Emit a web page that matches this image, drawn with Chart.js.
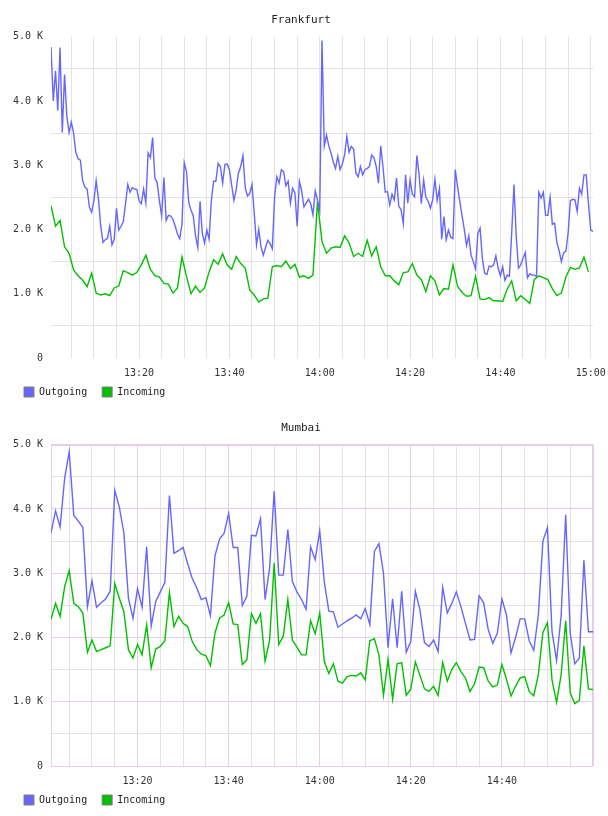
<!DOCTYPE html>
<html>
<head>
<meta charset="utf-8">
<script src="https://cdn.jsdelivr.net/npm/chart.js@4.4.1/dist/chart.umd.min.js"></script>
<style>
  html, body { margin: 0; padding: 0; background: #fff; }
  #wrap { position: relative; width: 608px; height: 816px; overflow: hidden; }
  .box { position: absolute; left: 0; width: 608px; height: 416px; }
  #box-fra { top: 0; }
  #box-bom { top: 408px; }
</style>
</head>
<body>
<div id="wrap">
  <div class="box" id="box-fra"><canvas id="chart-fra"></canvas></div>
  <div class="box" id="box-bom"><canvas id="chart-bom"></canvas></div>
</div>
<script>
// values are in K; times are minutes since midnight
// Frankfurt: outgoing every 30 s, incoming every minute, from 13:00:30
const fraStart = 780.5;
const fraOutgoing = [
  4.84, 4.00, 4.47, 3.85, 4.83, 3.51, 4.41, 3.77, 3.51, 3.67,
  3.50, 3.20, 3.10, 3.08, 2.76, 2.66, 2.63, 2.35, 2.27, 2.45,
  2.76, 2.48, 2.06, 1.80, 1.84, 1.86, 2.05, 1.76, 1.85, 2.33,
  1.99, 2.05, 2.12, 2.40, 2.70, 2.58, 2.65, 2.63, 2.62, 2.45,
  2.40, 2.63, 2.41, 3.19, 3.12, 3.43, 2.80, 2.73, 2.45, 2.21,
  2.81, 2.14, 2.22, 2.21, 2.16, 2.05, 1.93, 1.86, 2.08, 3.04,
  2.90, 2.42, 2.30, 2.21, 1.90, 1.72, 2.44, 1.94, 1.79, 1.99,
  1.85, 2.45, 2.75, 2.75, 3.03, 2.98, 2.72, 3.01, 3.02, 2.93,
  2.69, 2.45, 2.62, 2.88, 2.98, 3.15, 2.65, 2.52, 2.56, 2.70,
  2.25, 1.76, 2.00, 1.73, 1.60, 1.72, 1.83, 1.78, 1.70, 2.50,
  2.82, 2.72, 2.93, 2.90, 2.68, 2.75, 2.41, 2.64, 2.57, 2.05,
  2.75, 2.60, 2.35, 2.41, 2.47, 2.40, 2.23, 2.60, 2.46, 2.30,
  4.94, 3.30, 3.47, 3.30, 3.19, 3.05, 2.95, 3.14, 2.93, 3.02,
  3.16, 3.45, 3.20, 3.29, 3.25, 2.88, 2.82, 2.98, 2.85, 2.93,
  2.95, 2.98, 3.16, 3.12, 2.98, 2.72, 3.30, 2.98, 2.58, 2.59,
  2.38, 2.55, 2.46, 2.80, 2.36, 2.31, 2.09, 2.85, 2.41, 2.77,
  2.55, 2.51, 3.15, 2.85, 2.40, 2.77, 2.50, 2.44, 2.33, 2.46,
  2.78, 2.45, 2.64, 1.85, 2.20, 1.84, 1.99, 1.88, 1.86, 2.93,
  2.67, 2.44, 2.22, 2.00, 1.75, 1.90, 1.60, 1.50, 1.38, 1.94,
  2.02, 1.55, 1.32, 1.30, 1.43, 1.42, 1.45, 1.59, 1.40, 1.28,
  1.42, 1.21, 1.29, 1.27, 1.95, 2.70, 1.90, 1.40, 1.45, 1.55,
  1.64, 1.25, 1.31, 1.29, 1.29, 1.27, 2.58, 2.49, 2.58, 2.22,
  2.22, 2.50, 2.08, 2.10, 1.80, 1.67, 1.50, 1.64, 1.66, 1.95,
  2.45, 2.47, 2.46, 2.28, 2.64, 2.55, 2.85, 2.85, 2.40, 1.99,
  1.97
];
const fraIncoming = [
  2.37, 2.05, 2.14, 1.73, 1.63, 1.37, 1.28, 1.21, 1.11, 1.32,
  1.01, 0.98, 1.00, 0.97, 1.09, 1.12, 1.36, 1.33, 1.29, 1.33,
  1.45, 1.60, 1.38, 1.28, 1.26, 1.16, 1.15, 1.01, 1.09, 1.57,
  1.27, 1.00, 1.12, 1.02, 1.09, 1.34, 1.53, 1.46, 1.62, 1.45,
  1.38, 1.58, 1.47, 1.40, 1.06, 0.98, 0.87, 0.92, 0.93, 1.42,
  1.44, 1.42, 1.51, 1.39, 1.46, 1.26, 1.28, 1.24, 1.29, 2.43,
  1.81, 1.63, 1.71, 1.73, 1.72, 1.90, 1.79, 1.58, 1.63, 1.58,
  1.83, 1.59, 1.73, 1.42, 1.28, 1.28, 1.20, 1.14, 1.33, 1.34,
  1.47, 1.29, 1.22, 1.03, 1.28, 1.20, 0.98, 1.08, 1.07, 1.45,
  1.12, 1.02, 0.96, 0.97, 1.27, 0.92, 0.91, 0.94, 0.89, 0.89,
  0.88, 1.07, 1.20, 0.89, 0.97, 0.91, 0.85, 1.22, 1.28, 1.25,
  1.22, 1.08, 0.97, 1.01, 1.26, 1.41, 1.38, 1.40, 1.57, 1.34
];

// Mumbai: both series every minute, from 13:01
const bomStart = 781;
const bomOutgoing = [
  3.63, 3.97, 3.72, 4.48, 4.89, 3.90, 3.81, 3.71, 2.48, 2.88,
  2.47, 2.54, 2.60, 2.72, 4.29, 4.03, 3.63, 2.61, 2.30, 2.76,
  2.47, 3.41, 2.18, 2.56, 2.71, 2.86, 4.21, 3.31, 3.35, 3.40,
  3.15, 2.92, 2.77, 2.59, 2.62, 2.34, 3.27, 3.53, 3.62, 3.93,
  3.40, 3.40, 2.50, 2.64, 3.59, 3.58, 3.85, 2.59, 3.08, 4.28,
  2.97, 2.97, 3.68, 2.87, 2.71, 2.59, 2.44, 3.41, 3.21, 3.66,
  2.87, 2.41, 2.40, 2.16, 2.21, 2.26, 2.30, 2.35, 2.29, 2.45,
  2.20, 3.34, 3.46, 3.00, 1.84, 2.60, 1.84, 2.72, 1.77, 1.94,
  2.72, 2.43, 1.92, 1.86, 1.96, 1.78, 2.78, 2.38, 2.53, 2.71,
  2.48, 2.22, 1.96, 1.97, 2.65, 2.54, 2.12, 1.91, 2.07, 2.60,
  2.35, 1.76, 2.00, 2.29, 2.29, 1.95, 1.80, 2.35, 3.50, 3.71,
  2.09, 1.64, 2.33, 3.91, 2.07, 1.59, 1.68, 3.20, 2.09, 2.09
];
const bomIncoming = [
  2.28, 2.53, 2.33, 2.79, 3.04, 2.53, 2.48, 2.38, 1.77, 1.96,
  1.78, 1.81, 1.84, 1.87, 2.84, 2.61, 2.40, 1.81, 1.68, 1.89,
  1.73, 2.20, 1.53, 1.82, 1.86, 1.95, 2.70, 2.17, 2.33, 2.22,
  2.17, 1.94, 1.81, 1.74, 1.72, 1.56, 2.07, 2.30, 2.35, 2.54,
  2.21, 2.20, 1.58, 1.65, 2.37, 2.22, 2.37, 1.63, 1.96, 3.16,
  1.89, 2.02, 2.59, 1.96, 1.85, 1.73, 1.73, 2.26, 2.06, 2.38,
  1.63, 1.44, 1.59, 1.32, 1.29, 1.39, 1.41, 1.40, 1.45, 1.34,
  1.95, 1.98, 1.73, 1.10, 1.66, 1.04, 1.59, 1.61, 1.10, 1.20,
  1.62, 1.41, 1.20, 1.16, 1.24, 1.10, 1.61, 1.32, 1.50, 1.61,
  1.47, 1.37, 1.16, 1.28, 1.54, 1.53, 1.32, 1.23, 1.26, 1.58,
  1.35, 1.09, 1.24, 1.37, 1.39, 1.16, 1.09, 1.42, 2.08, 2.23,
  1.34, 0.99, 1.42, 2.26, 1.14, 0.97, 1.02, 1.87, 1.20, 1.19
];

const OUT_COLOR = '#6666ff';
const IN_COLOR = '#00c000';
const GRID = '#e3e3e3';
const GRID_MAJOR = '#e6cfe6';

Chart.defaults.font.family = "'DejaVu Sans Mono', monospace";
Chart.defaults.font.size = 10;
Chart.defaults.color = '#333';

// vertical grid every 5 minutes, labels every 20
const gridMinutes = [];
for (let m = 785; m <= 900; m += 5) gridMinutes.push(m);

function hhmm(v) {
  const h = Math.floor(v / 60);
  const m = Math.round(v % 60);
  return h + ':' + String(m).padStart(2, '0');
}

function isWhole(v) {
  return Math.abs(v - Math.round(v)) < 1e-6;
}

function points(values, start, step) {
  return values.map((y, i) => ({ x: start + i * step, y }));
}

// box around the plot area (Mumbai only)
const frameBorder = {
  id: 'frameBorder',
  beforeDatasetsDraw(chart, args, opts) {
    if (!opts.color) return;
    const a = chart.chartArea;
    const ctx = chart.ctx;
    ctx.save();
    ctx.strokeStyle = opts.color;
    ctx.lineWidth = 1;
    ctx.strokeRect(Math.round(a.left) + 0.5, Math.round(a.top) + 0.5,
      Math.round(a.right - a.left) - 1, Math.round(a.bottom - a.top));
    ctx.restore();
  }
};

// pull the legend up closer to the time labels
const legendShift = {
  id: 'legendShift',
  afterLayout(chart, args, opts) {
    const l = chart.legend;
    l.top -= opts.dy;
    l.bottom -= opts.dy;
  }
};

function trafficChart(id, cfg) {
  return new Chart(document.getElementById(id), {
    type: 'line',
    data: {
      datasets: [
        {
          label: 'Outgoing',
          data: points(cfg.outgoing, cfg.start, cfg.outStep),
          borderColor: OUT_COLOR,
          backgroundColor: OUT_COLOR,
          borderWidth: 1.4
        },
        {
          label: 'Incoming',
          data: points(cfg.incoming, cfg.start, 1),
          borderColor: IN_COLOR,
          backgroundColor: IN_COLOR,
          borderWidth: 1.4
        }
      ]
    },
    options: {
      responsive: true,
      maintainAspectRatio: false,
      animation: false,
      elements: { point: { radius: 0 }, line: { tension: 0 } },
      layout: { padding: { left: 9, right: 15, top: 0, bottom: 1 } },
      plugins: {
        title: {
          display: true,
          text: cfg.title,
          color: '#222',
          font: { size: 11, weight: 'normal' },
          padding: { top: 13.4, bottom: 10.1 }
        },
        legend: {
          position: 'bottom',
          align: 'start',
          labels: {
            boxWidth: 10,
            boxHeight: 10,
            padding: 15,
            color: '#222',
            generateLabels(chart) {
              return Chart.defaults.plugins.legend.labels.generateLabels(chart)
                .map(l => Object.assign(l, { strokeStyle: '#808080', lineWidth: 1 }));
            }
          }
        },
        tooltip: { enabled: false },
        frameBorder: { color: cfg.frame },
        legendShift: { dy: 8 }
      },
      scales: {
        x: {
          type: 'linear',
          min: cfg.min,
          max: cfg.max,
          afterBuildTicks(scale) {
            scale.ticks = gridMinutes.filter(m => m >= scale.min && m <= scale.max).map(v => ({ value: v }));
          },
          afterFit(scale) {
            scale.height = 22;
            scale.paddingLeft = 0;
            scale.paddingRight = 0;
          },
          border: { display: false },
          grid: {
            drawTicks: false,
            color: ctx => (cfg.majorGrid && ctx.tick && ctx.tick.value % 20 === 0) ? GRID_MAJOR : GRID
          },
          ticks: {
            autoSkip: false,
            maxRotation: 0,
            padding: 9,
            callback: v => (v % 20 === 0 && (cfg.lastLabel || v < cfg.max)) ? hhmm(v) : ''
          }
        },
        y: {
          min: 0,
          max: 5,
          afterFit(scale) { scale.width = 42; },
          border: { display: false },
          grid: {
            drawTicks: false,
            color: ctx => {
              const whole = ctx.tick && isWhole(ctx.tick.value);
              if (cfg.majorGrid) return whole ? GRID_MAJOR : GRID;
              return whole ? 'rgba(0,0,0,0)' : GRID;
            }
          },
          ticks: {
            stepSize: 0.5,
            autoSkip: false,
            padding: 8,
            callback: v => isWhole(v) ? (v === 0 ? '0' : v.toFixed(1) + ' K') : ''
          }
        }
      }
    },
    plugins: [frameBorder, legendShift]
  });
}

trafficChart('chart-fra', {
  title: 'Frankfurt',
  outgoing: fraOutgoing,
  incoming: fraIncoming,
  start: fraStart,
  outStep: 0.5,
  min: 780.5,
  max: 900.5,
  lastLabel: true,
  majorGrid: false,
  frame: null
});

trafficChart('chart-bom', {
  title: 'Mumbai',
  outgoing: bomOutgoing,
  incoming: bomIncoming,
  start: bomStart,
  outStep: 1,
  min: 781,
  max: 900,
  lastLabel: false,
  majorGrid: true,
  frame: GRID_MAJOR
});
</script>
</body>
</html>
